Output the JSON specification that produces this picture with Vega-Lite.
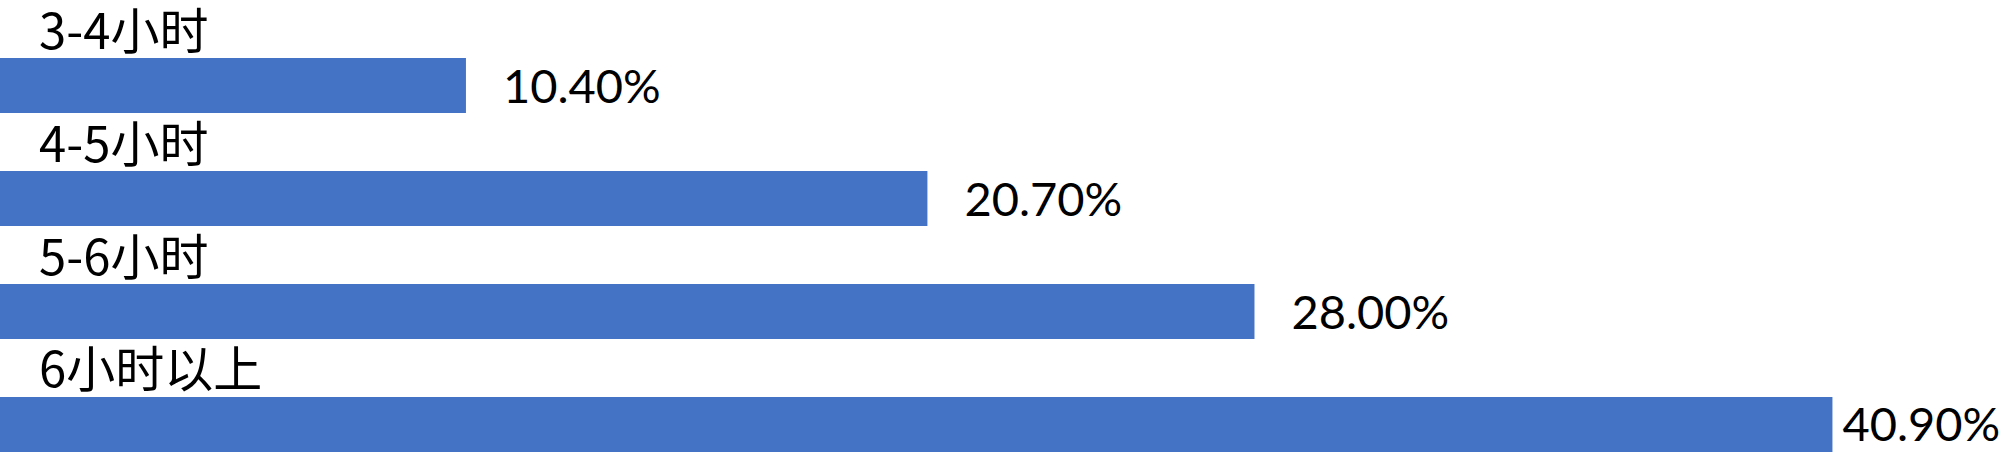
{
  "$schema": "https://vega.github.io/schema/vega-lite/v6.json",
  "width": 2000,
  "height": 452,
  "autosize": "none",
  "padding": 0,
  "background": "white",
  "config": {"view": {"stroke": null}},
  "data": {
    "values": [
      {"category": "3-4小时", "value": 10.4, "label": "10.40%"},
      {"category": "4-5小时", "value": 20.7, "label": "20.70%"},
      {"category": "5-6小时", "value": 28.0, "label": "28.00%"},
      {"category": "6小时以上", "value": 40.9, "label": "40.90%"}
    ]
  },
  "encoding": {
    "y": {
      "field": "category",
      "type": "nominal",
      "sort": null,
      "axis": null,
      "scale": {"paddingInner": 0.513, "paddingOuter": 0.257, "align": 1}
    }
  },
  "layer": [
    {
      "mark": {"type": "bar", "color": "#4472C4"},
      "encoding": {
        "x": {"field": "value", "type": "quantitative", "axis": null, "scale": {"domain": [0, 44.64], "nice": false, "zero": true}}
      }
    },
    {
      "mark": {"type": "text", "align": "left", "baseline": "alphabetic", "font": "Noto Sans CJK SC", "fontSize": 49, "color": "black", "dx": 39, "dy": -37},
      "encoding": {
        "x": {"datum": 0, "type": "quantitative"},
        "text": {"field": "category"}
      }
    },
    {
      "transform": [{"filter": "datum.value < 40"}],
      "mark": {"type": "text", "align": "left", "baseline": "alphabetic", "font": "Lato", "fontSize": 47, "color": "black", "dx": 37, "dy": 17},
      "encoding": {
        "x": {"field": "value", "type": "quantitative"},
        "text": {"field": "label"}
      }
    },
    {
      "transform": [{"filter": "datum.value >= 40"}],
      "mark": {"type": "text", "align": "left", "baseline": "alphabetic", "font": "Lato", "fontSize": 47, "color": "black", "dx": 10, "dy": 17},
      "encoding": {
        "x": {"field": "value", "type": "quantitative"},
        "text": {"field": "label"}
      }
    }
  ]
}
